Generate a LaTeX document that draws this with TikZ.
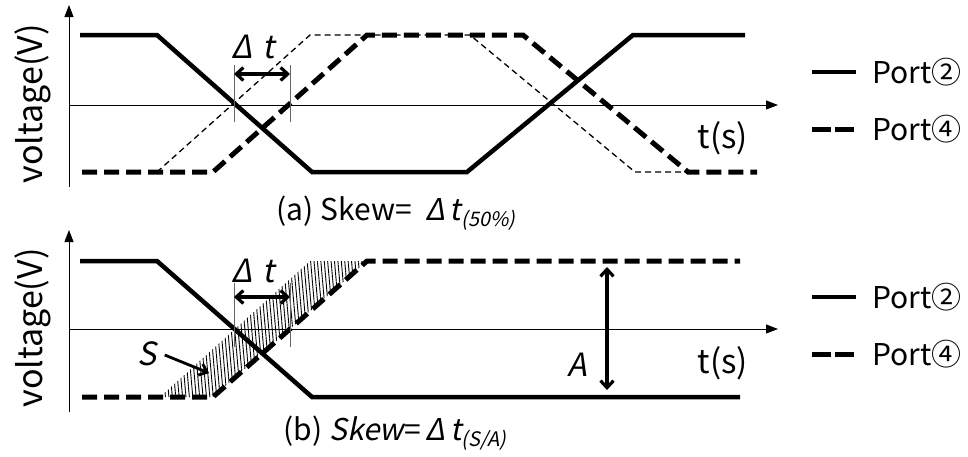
\documentclass[tikz,border=0pt]{standalone}
\usepackage{fontspec}
\setmainfont{Noto Sans CJK JP}
\newfontfamily\slfont[FakeSlant=0.2]{Noto Sans CJK JP}
\usetikzlibrary{arrows.meta,patterns.meta,positioning}

\begin{document}
\begin{tikzpicture}[x=1pt,y=-1pt,
    axis/.style={line width=1pt, -{Triangle[length=12pt,width=9pt]}},
    port2/.style={line width=4.5pt},
    port4/.style={line width=5pt, dash pattern=on 15pt off 7pt},
    ideal/.style={line width=1.3pt, dash pattern=on 6pt off 4pt},
    marker/.style={line width=0.8pt, draw=black!60},
    dim/.style={line width=3.2pt, {Straight Barb[length=7pt,width=13pt]}-{Straight Barb[length=7pt,width=13pt]}},
    txt/.style={inner sep=0pt, font=\fontsize{30}{36}\selectfont},
    sltxt/.style={inner sep=0pt, font=\fontsize{32}{38}\selectfont\slfont}
  ]
    \useasboundingbox (0,0) rectangle (968,456);

    % (a) 50% crossing
    \draw[axis] (69,187) -- (69,5);
    \draw[axis] (69,105) -- (778,105);
    \node[txt, rotate=90, font=\fontsize{34}{40}\selectfont] (va) at (33,104) {voltage(V)};
    \node[txt, font=\fontsize{33}{38}\selectfont] (ta) at (723,138) {t(s)};
    \draw[ideal] (157,172) -- (310,35) -- (470,35) -- (635,172) -- (688,172);
    \draw[port4] (82,172) -- (213,172) -- (367,35) -- (523,35) -- (688,172) -- (757,172);
    \draw[port2] (80,35) -- (157,35) -- (312,172) -- (467,172) -- (633,35) -- (745,35);
    \draw[marker] (234,65) -- (234,122);
    \draw[marker] (290,65) -- (290,122);
    \coordinate (dtal) at (234,74);
    \coordinate (dtar) at (290,74);
    \draw[dim] (dtal) -- (dtar);
    \node[sltxt] (dta) at (253,47) {Δ\,\,t};
    \node[txt, font=\fontsize{30}{36}\selectfont] (capa) at (396,213)
      {(a) Skew=\ \ {\slfont Δ\,t}\raisebox{-0.4ex}{\slfont\fontsize{20}{24}\selectfont(50\%)}};

    % (b) area method
    \fill[pattern={Lines[angle=95,distance=3.4pt,line width=0.9pt]}]
      (160,397) -- (310,261) -- (367,261) -- (213,397) -- cycle;
    \draw[axis] (69,412) -- (69,230);
    \draw[axis] (69,329) -- (778,329);
    \node[txt, rotate=90, font=\fontsize{34}{40}\selectfont] (vb) at (33,328) {voltage(V)};
    \node[txt, font=\fontsize{33}{38}\selectfont] (tb) at (723,363) {t(s)};
    \draw[port4] (82,397) -- (213,397) -- (367,261) -- (740,261);
    \draw[port2] (80,261) -- (157,261) -- (312,397) -- (740,397);
    \draw[marker] (234,283) -- (234,347);
    \draw[marker] (290,283) -- (290,347);
    \coordinate (dtbl) at (234,297);
    \coordinate (dtbr) at (290,297);
    \draw[dim] (dtbl) -- (dtbr);
    \node[sltxt] (dtb) at (253,271) {Δ\,\,t};
    \node[sltxt] (S) at (147,354) {S};
    \coordinate (Sin) at (209,373);
    \draw[line width=2.8pt, -{Straight Barb[length=7pt,width=12pt]}] (S.east) ++(8,1) -- (Sin);
    \coordinate (Atop) at (607,267);
    \coordinate (Abot) at (607,390);
    \draw[dim] (Atop) -- (Abot);
    \node[sltxt] (A) at (577,365) {A};
    \node[txt, font=\fontsize{30}{36}\selectfont] (capb) at (395,433)
      {(b) {\slfont Skew}=\,{\slfont Δ\,t}\raisebox{-0.4ex}{\slfont\fontsize{20}{24}\selectfont(S/A)}};

    % legends
    \foreach \dy in {0,225} {
      \coordinate (l2) at (856,72+\dy);
      \coordinate (l4) at (856,129+\dy);
      \draw[port2] (812,72+\dy) -- (l2);
      \draw[line width=5pt, dash pattern=on 19pt off 4pt] (812,129+\dy) -- (l4);
      \node[txt, right=16pt of l2] {Port②};
      \node[txt, right=16pt of l4] {Port④};
    }
  \end{tikzpicture}
\end{document}
